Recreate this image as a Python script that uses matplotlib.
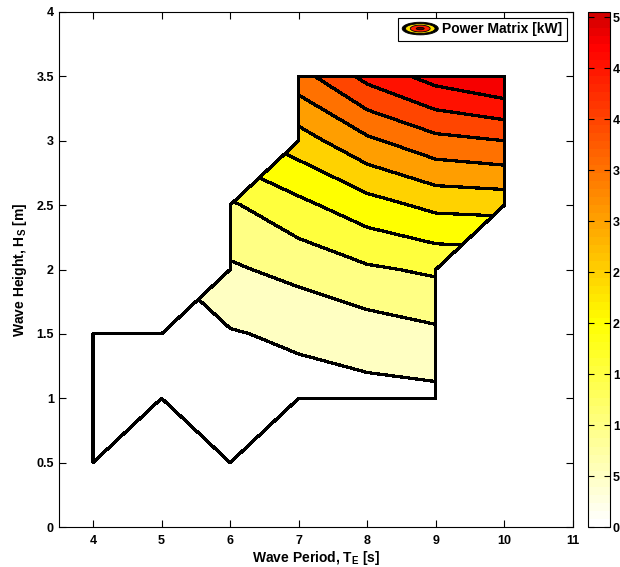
import numpy as np
import matplotlib
matplotlib.use('Agg')
import matplotlib.pyplot as plt
from matplotlib.colors import LinearSegmentedColormap, Normalize
from matplotlib.cm import ScalarMappable
from matplotlib.legend_handler import HandlerBase
from matplotlib.patches import Ellipse, Patch

plt.rcParams['font.family'] = ['Liberation Sans', 'DejaVu Sans']
plt.rcParams['font.weight'] = 'bold'
plt.rcParams['mathtext.fontset'] = 'custom'
plt.rcParams['mathtext.rm'] = 'Liberation Sans:bold'
plt.rcParams['mathtext.bf'] = 'Liberation Sans:bold'

# datos
periodos = [4, 5, 6, 7, 8, 9, 10]
alturas = [0.5, 1.0, 1.5, 2.0, 2.5, 3.0, 3.5]
nan = np.nan
potencia = [
    [0,   nan, 0,    nan,  nan,  nan,  nan],
    [0,   0,   0,    280,  340,  360,  nan],
    [0,   0,   460,  600,  740,  900,  nan],
    [nan, nan, 930,  1150, 1430, 1580, nan],
    [nan, nan, 1430, 1875, 2300, 2630, 2680],
    [nan, nan, nan,  2770, 3400, 3850, 4000],
    [nan, nan, nan,  3800, 4650, 5200, 5530],
]
niveles = [0, 500, 1000, 1500, 2000, 2500, 3000, 3500, 4000, 4500, 5000, 6000]
cbar_max = 5050
cbar_ticks = [0, 500, 1000, 1500, 2000, 2500, 3000, 3500, 4000, 4500, 5000]
cbar_labels = ['0', '5', '1', '1', '2', '2', '3', '3', '4', '4', '5']

# mapa de colores blanco -> amarillo -> rojo -> rojo oscuro
nodos = [(0.0, (1, 1, 1)),
         (2000 / cbar_max, (1, 1, 0)),
         (4750 / cbar_max, (1, 0, 0)),
         (1.0, (0.82, 0, 0))]
cmap = LinearSegmentedColormap.from_list('potencia', nodos, N=64)
norm = Normalize(0, cbar_max)
# cada banda toma el color de su nivel inferior (la ultima queda en rojo vivo)
colores = [cmap(norm(n)) for n in niveles[:-2]] + [cmap(norm(4750))]

T, H = np.meshgrid(periodos, alturas)
Z = np.ma.masked_invalid(np.array(potencia, dtype=float))

fig = plt.figure(figsize=(6.2, 5.67), dpi=100)
ax = fig.add_axes([58.7 / 620, 40 / 567, 514.3 / 620, 515 / 567])

cf = ax.contourf(T, H, Z, levels=niveles, colors=colores, corner_mask=True)
cf.set_edgecolor('k')
cf.set_linewidth(1.6)

ax.set_xlim(3.5, 11)
ax.set_ylim(0, 4)
ax.set_xticks(range(4, 12))
ax.set_yticks(np.arange(0, 4.01, 0.5))
ax.yaxis.set_major_formatter(matplotlib.ticker.FormatStrFormatter('%g'))
ax.tick_params(direction='in', top=True, right=True, length=5, width=0.8,
               labelsize=9)
ax.tick_params(axis='x', pad=6)
for s in ax.spines.values():
    s.set_linewidth(0.8)
ax.set_xlabel(r'Wave Period, T$_{\mathbf{E}}$ [s]', fontsize=10,
              fontweight='bold', labelpad=1)
ax.set_ylabel(r'Wave Height, H$_{\mathbf{S}}$ [m]', fontsize=10,
              fontweight='bold', labelpad=5)


# icono de la leyenda tipo contorno
class IconoContorno(HandlerBase):
    def create_artists(self, legend, orig_handle, xdescent, ydescent,
                       width, height, fontsize, trans):
        cx, cy = width / 2 - xdescent, height / 2 - ydescent
        arts = []
        for fw, fh, c in [(1.0, 1.3, 'k'), (0.82, 1.0, '#FFE000'),
                          (0.55, 0.7, '#FF2000'), (0.22, 0.25, '#500000')]:
            arts.append(Ellipse((cx, cy), width * fw, height * fh, facecolor=c,
                                edgecolor='k', lw=0.6, transform=trans))
        return arts


proxy = Patch()
lgd = ax.legend([proxy], ['Power Matrix [kW]'], loc='upper right',
                handler_map={Patch: IconoContorno()}, fontsize=10,
                fancybox=False, framealpha=1, edgecolor='k',
                borderaxespad=0.45, handlelength=2.6, handletextpad=0.3,
                borderpad=0.3)
lgd.get_frame().set_linewidth(0.8)

# barra de color
cax = fig.add_axes([588 / 620, 40 / 567, 22 / 620, 515 / 567])
cb = fig.colorbar(ScalarMappable(norm=norm, cmap=cmap), cax=cax)
cb.set_ticks(cbar_ticks)
cb.set_ticklabels(cbar_labels)
cb.outline.set_linewidth(0.8)
cax.tick_params(direction='in', left=True, right=True, length=4, width=0.8,
                labelsize=9, pad=2)

plt.savefig('out.png', dpi=100)
